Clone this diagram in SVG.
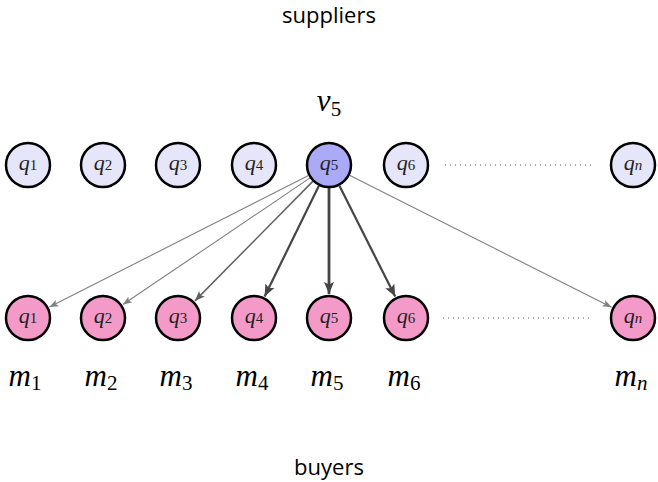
<svg xmlns="http://www.w3.org/2000/svg" width="658" height="482" viewBox="0 0 658 482">
<defs>
<style>
.sup{fill:#e6e6fa;stroke:#000;stroke-width:2.5}
.sel{fill:#aaaaf6;stroke:#000;stroke-width:2.5}
.buy{fill:#f49ac9;stroke:#000;stroke-width:2.5}
.ql{font-family:"Liberation Serif",serif;font-style:italic;font-size:22px;text-anchor:middle;fill:#222}
.sub{font-style:normal;font-size:15px}
.ml{font-family:"Liberation Serif",serif;font-style:italic;font-size:31px;text-anchor:middle;fill:#000}
.msub{font-style:normal;font-size:21px}
tspan.it{font-style:italic}
.title{font-family:"Open Sans",sans-serif;font-size:22px;text-anchor:middle;fill:#000}
.dots{stroke:#555;stroke-width:1;stroke-dasharray:1 4}
.thin{stroke:#808080;stroke-width:1.1;fill:none;marker-end:url(#ah1)}
.mid{stroke:#606060;stroke-width:1.5;fill:none;marker-end:url(#ah2)}
.thick{stroke:#454545;stroke-width:2.2;fill:none;marker-end:url(#ah3)}
.thickest{stroke:#454545;stroke-width:2.8;fill:none;marker-end:url(#ah3)}
</style>
<marker id="ah1" markerUnits="userSpaceOnUse" markerWidth="10" markerHeight="8" refX="9" refY="4" orient="auto"><path d="M0,0.5 L9,4 L0,7.5 L2,4 Z" fill="#808080"/></marker>
<marker id="ah2" markerUnits="userSpaceOnUse" markerWidth="11" markerHeight="9" refX="10" refY="4.5" orient="auto"><path d="M0,0.5 L10,4.5 L0,8.5 L2.2,4.5 Z" fill="#606060"/></marker>
<marker id="ah3" markerUnits="userSpaceOnUse" markerWidth="13" markerHeight="11" refX="12" refY="5.5" orient="auto"><path d="M0,0.5 L12,5.5 L0,10.5 L2.6,5.5 Z" fill="#454545"/></marker>
</defs>
<rect width="658" height="482" fill="#fff"/>
<text class="title" x="329" y="23">suppliers</text>
<text class="title" x="329" y="475">buyers</text>
<text class="ml" x="329" y="111">v<tspan class="msub" dy="5">5</tspan></text>
<g id="connectors">
<path class="thin" d="M308.5,175.4 L49.4,307.1"/>
<path class="thin" d="M310,177.9 L122.9,304.5"/>
<path class="mid" d="M312.8,181.4 L194.9,300.9"/>
<path class="thick" d="M318.9,185.7 L264.6,296.5"/>
<path class="thickest" d="M329,188 L329,294"/>
<path class="thick" d="M339.3,185.5 L395.2,296.6"/>
<path class="thin" d="M349.5,175.3 L611.6,307.2"/>
<line class="dots" x1="445" y1="165" x2="595" y2="165"/>
<line class="dots" x1="443" y1="318" x2="593" y2="318"/>
</g>
<g id="s1"><circle class="sup" cx="28" cy="165" r="22"/><text class="ql" x="28" y="170">q<tspan class="sub">1</tspan></text></g>
<g id="s2"><circle class="sup" cx="103" cy="165" r="22"/><text class="ql" x="103" y="170">q<tspan class="sub">2</tspan></text></g>
<g id="s3"><circle class="sup" cx="178" cy="165" r="22"/><text class="ql" x="178" y="170">q<tspan class="sub">3</tspan></text></g>
<g id="s4"><circle class="sup" cx="254" cy="165" r="22"/><text class="ql" x="254" y="170">q<tspan class="sub">4</tspan></text></g>
<g id="s5"><circle class="sel" cx="329" cy="165" r="22"/><text class="ql" x="329" y="170">q<tspan class="sub">5</tspan></text></g>
<g id="s6"><circle class="sup" cx="406" cy="165" r="22"/><text class="ql" x="406" y="170">q<tspan class="sub">6</tspan></text></g>
<g id="sn"><circle class="sup" cx="633" cy="165" r="22"/><text class="ql" x="633" y="170">q<tspan class="sub it">n</tspan></text></g>
<g id="b1"><circle class="buy" cx="28" cy="318" r="22"/><text class="ql" x="28" y="323">q<tspan class="sub">1</tspan></text></g>
<g id="b2"><circle class="buy" cx="103" cy="318" r="22"/><text class="ql" x="103" y="323">q<tspan class="sub">2</tspan></text></g>
<g id="b3"><circle class="buy" cx="178" cy="318" r="22"/><text class="ql" x="178" y="323">q<tspan class="sub">3</tspan></text></g>
<g id="b4"><circle class="buy" cx="254" cy="318" r="22"/><text class="ql" x="254" y="323">q<tspan class="sub">4</tspan></text></g>
<g id="b5"><circle class="buy" cx="329" cy="318" r="22"/><text class="ql" x="329" y="323">q<tspan class="sub">5</tspan></text></g>
<g id="b6"><circle class="buy" cx="406" cy="318" r="22"/><text class="ql" x="406" y="323">q<tspan class="sub">6</tspan></text></g>
<g id="bn"><circle class="buy" cx="633" cy="318" r="22"/><text class="ql" x="633" y="323">q<tspan class="sub it">n</tspan></text></g>
<g id="labels">
<text class="ml" x="25" y="386">m<tspan class="msub" dy="4">1</tspan></text>
<text class="ml" x="101" y="386">m<tspan class="msub" dy="4">2</tspan></text>
<text class="ml" x="176" y="386">m<tspan class="msub" dy="4">3</tspan></text>
<text class="ml" x="252" y="386">m<tspan class="msub" dy="4">4</tspan></text>
<text class="ml" x="327" y="386">m<tspan class="msub" dy="4">5</tspan></text>
<text class="ml" x="404" y="386">m<tspan class="msub" dy="4">6</tspan></text>
<text class="ml" x="631" y="386">m<tspan class="msub it" dy="4">n</tspan></text>
</g>
</svg>
